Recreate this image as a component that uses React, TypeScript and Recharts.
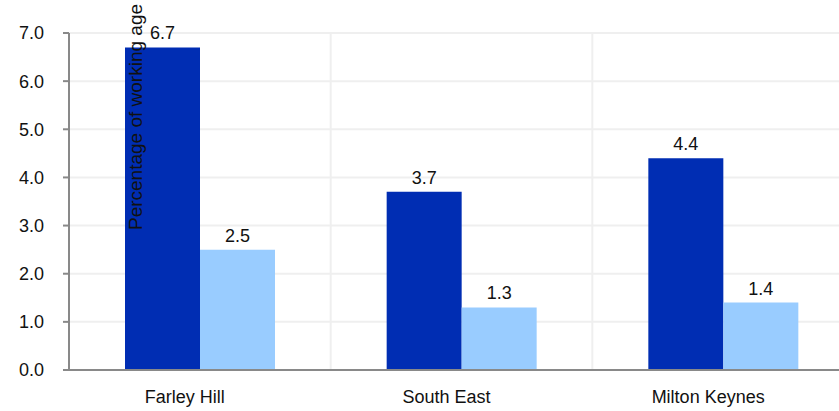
import { BarChart, Bar, XAxis, YAxis, CartesianGrid, LabelList } from 'recharts'

const areas = ['Farley Hill', 'South East', 'Milton Keynes']
const seriesA = [6.7, 3.7, 4.4]
const seriesB = [2.5, 1.3, 1.4]
const yTicks = [0, 1, 2, 3, 4, 5, 6, 7]
const axisTitle = 'Percentage of working age'

const data = areas.map((name, i) => ({ name, a: seriesA[i], b: seriesB[i] }))

const font = '"Liberation Sans", Arial, sans-serif'
const tickStyle = { fontSize: 18, fill: '#111', fontFamily: font }

export default function App() {
  return (
    <div style={{ position: 'absolute', left: 0, top: 0, width: 839, height: 411, overflow: 'hidden', background: '#fff' }}>
      <BarChart
        width={870}
        height={411}
        data={data}
        margin={{ top: 33, right: 16, left: 0, bottom: 0 }}
        barGap={0}
      >
        <CartesianGrid
          stroke="#efefef"
          strokeWidth={2}
          verticalCoordinatesGenerator={({ offset }: any) =>
            areas.map((_, i) => offset.left + (offset.width * (i + 1)) / areas.length)
          }
        />
        <XAxis
          dataKey="name"
          height={41}
          tickLine={false}
          tickSize={6}
          tickMargin={14}
          axisLine={{ stroke: '#898989', strokeWidth: 2 }}
          tick={{ ...tickStyle, dx: -15 }}
        />
        <YAxis
          width={69}
          domain={[0, 7]}
          ticks={yTicks}
          tickFormatter={(v) => Number(v).toFixed(1)}
          tickSize={6}
          tickMargin={19}
          tickLine={{ stroke: '#898989', strokeWidth: 2 }}
          axisLine={{ stroke: '#898989', strokeWidth: 2 }}
          tick={tickStyle}
          interval={0}
        />
        <Bar dataKey="a" fill="#002db3" barSize={75} isAnimationActive={false}>
          <LabelList dataKey="a" position="top" offset={8} style={tickStyle} formatter={(v: any) => Number(v).toFixed(1)} />
        </Bar>
        <Bar dataKey="b" fill="#99ccff" barSize={75} isAnimationActive={false}>
          <LabelList dataKey="b" position="top" offset={8} style={tickStyle} formatter={(v: any) => Number(v).toFixed(1)} />
        </Bar>
      </BarChart>
      <svg width={839} height={411} style={{ position: 'absolute', left: 0, top: 0, pointerEvents: 'none' }}>
        <text
          transform="translate(142,117) rotate(-90)"
          textAnchor="middle"
          fontSize={19}
          fontFamily={font}
          fill="#111"
        >
          {axisTitle}
        </text>
      </svg>
    </div>
  )
}
